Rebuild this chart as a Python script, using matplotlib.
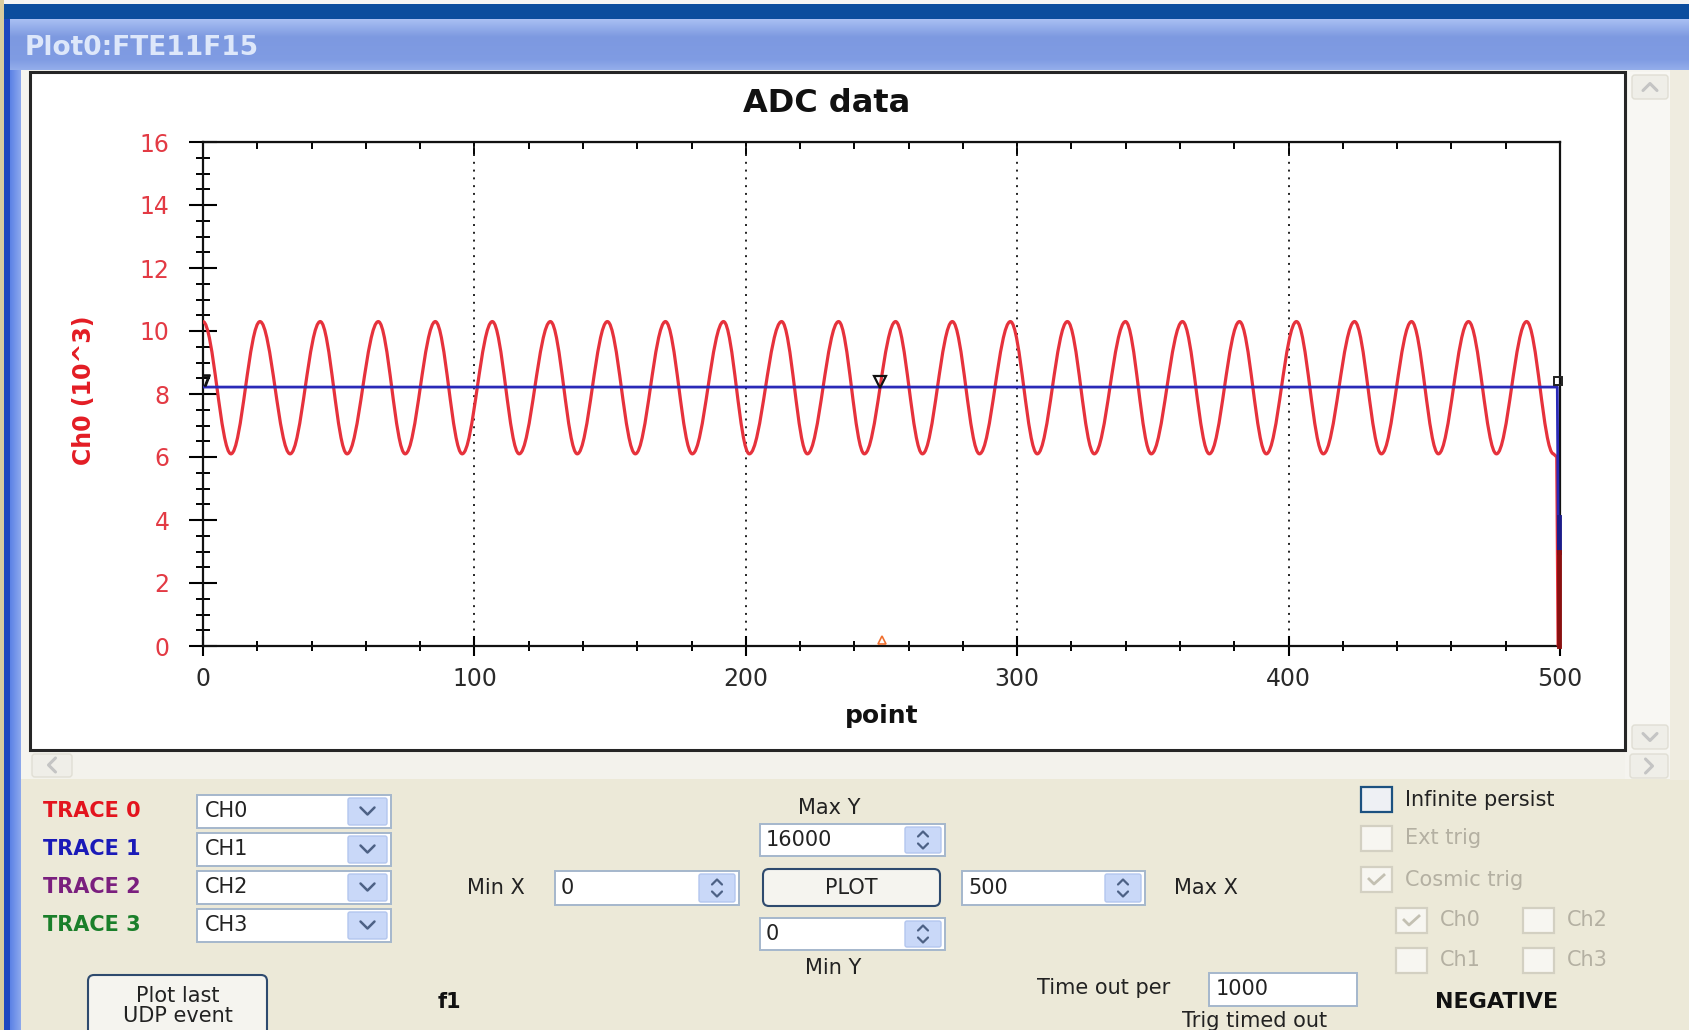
import numpy as np
import matplotlib
matplotlib.use("Agg")
import matplotlib.pyplot as plt
from matplotlib.patches import Rectangle, FancyBboxPatch, PathPatch
from matplotlib.path import Path
from matplotlib.ticker import MultipleLocator

# ---- data (x = point, y = Ch0 in 10^3 counts) ----
red_peak_x = [0, 21.0, 43.2, 64.6, 85.6, 106.6, 128.0, 149.0, 170.4, 191.8, 213.2, 234.2,
              255.2, 276.1, 297.5, 318.5, 339.9, 360.9, 381.9, 402.9, 424.3, 445.3, 466.3, 487.7]
red_peak_y = [10.3, 10.3, 10.3, 10.3, 10.3, 10.3, 10.3, 10.3, 10.3, 10.3, 10.3, 10.3,
              10.3, 10.3, 10.3, 10.3, 10.3, 10.3, 10.3, 10.3, 10.3, 10.3, 10.3, 10.3]
red_trough_x = [10.3, 32.1, 53.1, 74.5, 95.5, 116.5, 137.9, 159.3, 180.3, 201.3, 222.7, 243.7,
                265.1, 286.1, 307.4, 328.4, 349.4, 370.8, 391.8, 412.8, 434.2, 455.2, 476.6, 497.6]
red_trough_y = [6.1, 6.1, 6.1, 6.1, 6.1, 6.1, 6.1, 6.1, 6.1, 6.1, 6.1, 6.1,
                6.1, 6.1, 6.1, 6.1, 6.1, 6.1, 6.1, 6.1, 6.1, 6.1, 6.1, 6.1]
red_tail_x = [498.8, 499.3]
red_tail_y = [6.0, 0.0]

blue_x = [0, 499.0, 499.4]
blue_y = [8.22, 8.22, 3.0]
navy_end_x = [499.6, 499.6]
navy_end_y = [4.1, 3.0]
darkred_end_x = [499.6, 499.6]
darkred_end_y = [3.0, 0.0]

trig_x, trig_y = [249.5], [8.38]
cursor_x, cursor_y = [250], [0.2]
end_x, end_y = [499.2], [8.4]
start_x, start_y = [1.2], [8.45]

xmajor = [0, 100, 200, 300, 400, 500]
ymajor = [0, 2, 4, 6, 8, 10, 12, 14, 16]

trace_labels = ["TRACE 0", "TRACE 1", "TRACE 2", "TRACE 3"]
trace_colors = ["#e3141e", "#1a1ab8", "#7a1f7e", "#1a7f2a"]
combo_labels = ["CH0", "CH1", "CH2", "CH3"]

W, H = 1689, 1030
BEIGE = "#ece9d8"
RED = "#e6323c"
BLUE = "#2a2ab8"

fig = plt.figure(figsize=(16.89, 10.30), dpi=100)
fig.patch.set_facecolor(BEIGE)

# background axes in pixel coordinates (y downwards) for the window chrome
bg = fig.add_axes([0, 0, 1, 1], zorder=0)
bg.set_xlim(0, W)
bg.set_ylim(H, 0)
bg.axis("off")


def rect(x, y, w, h, fc, ec="none", lw=1.0, r=0, z=1):
    if r:
        p = FancyBboxPatch((x, y), w, h, boxstyle=f"round,pad=0,rounding_size={r}",
                           fc=fc, ec=ec, lw=lw, zorder=z)
    else:
        p = Rectangle((x, y), w, h, fc=fc, ec=ec, lw=lw, zorder=z)
    bg.add_patch(p)
    return p


def chev(cx, cy, s, kind="down", color="#4d6185", lw=1.8, z=5):
    if kind == "down":
        xs, ys = [cx - s, cx, cx + s], [cy - s / 2, cy + s / 2, cy - s / 2]
    elif kind == "up":
        xs, ys = [cx - s, cx, cx + s], [cy + s / 2, cy - s / 2, cy + s / 2]
    elif kind == "left":
        xs, ys = [cx + s / 2, cx - s / 2, cx + s / 2], [cy - s, cy, cy + s]
    else:
        xs, ys = [cx - s / 2, cx + s / 2, cx - s / 2], [cy - s, cy, cy + s]
    bg.plot(xs, ys, color=color, lw=lw, solid_capstyle="round",
            solid_joinstyle="round", zorder=z)


# top strip, dark blue bar, title bar
rect(0, 0, W, 5, "#f4f4f4")
rect(0, 4, W, 15, "#0b4d9e")
grad = np.linspace(0, 1, 60)[:, None]
tb_cols = np.array([[0.66, 0.75, 0.95], [0.49, 0.60, 0.88], [0.50, 0.61, 0.89], [0.58, 0.68, 0.92]])
pos = np.array([0, 0.35, 0.8, 1.0])
img = np.stack([np.interp(grad[:, 0], pos, tb_cols[:, c]) for c in range(3)], axis=-1)[:, None, :]
bg.imshow(img, extent=(8, W, 70, 19), aspect="auto", zorder=1)
bg.text(25, 48, "Plot0:FTE11F15", fontsize=19, fontweight="bold", color="#dde7fa",
        ha="left", va="center", zorder=3)

# left window border
rect(0, 0, 4, H, "#d9cc9e", z=2)
rect(4, 19, 6, H, "#1f47bf", z=2)
hg = np.linspace(0, 1, 20)[None, :]
himg = np.stack([np.interp(hg[0], [0, 1], [0.36, 0.55]),
                 np.interp(hg[0], [0, 1], [0.51, 0.66]),
                 np.interp(hg[0], [0, 1], [0.90, 0.93])], axis=-1)[None, :, :]
bg.imshow(himg, extent=(10, 21, H, 70), aspect="auto", zorder=2)

# client area around the plot
rect(21, 70, W - 21, 710, "#f5f4ef")
rect(21, 779, W - 21, H - 779, BEIGE)

# plot panel
rect(30, 72, 1595, 678, "white", ec="#262626", lw=2.2, z=1.5)

# vertical scrollbar
rect(1628, 72, 42, 678, "#f8f7f3")
rect(1632, 75, 36, 24, "#efeee8", ec="#e0ded4", lw=1, r=3, z=2)
chev(1650, 87, 7, "up", color="#c4c4c4", lw=2.2)
rect(1632, 725, 36, 24, "#efeee8", ec="#e0ded4", lw=1, r=3, z=2)
chev(1650, 737, 7, "down", color="#c4c4c4", lw=2.2)
rect(1670, 70, 19, 710, "#efece0")

# horizontal scrollbar
rect(30, 752, 1595, 27, "#f3f2ec")
rect(32, 754, 40, 23, "#efeee8", ec="#e0ded4", lw=1, r=3, z=2)
chev(52, 765, 7, "left", color="#c4c4c4", lw=2.2)
rect(1630, 754, 38, 24, "#efeee8", ec="#e0ded4", lw=1, r=3, z=2)
chev(1649, 766, 7, "right", color="#c4c4c4", lw=2.2)

# ---- main plot ----
ax = fig.add_axes([203 / W, 1 - 646 / H, (1560 - 203) / W, (646 - 142) / H], zorder=2)
ax.set_facecolor("white")
ax.set_xlim(0, 500)
ax.set_ylim(0, 16)

# red trace: smooth half-cycles through the read extrema
ext = sorted(zip(red_peak_x + red_trough_x, red_peak_y + red_trough_y))
k = 0.3634
verts = [ext[0]]
codes = [Path.MOVETO]
for (x0, y0), (x1, y1) in zip(ext[:-1], ext[1:]):
    w = x1 - x0
    verts += [(x0 + k * w, y0), (x1 - k * w, y1), (x1, y1)]
    codes += [Path.CURVE4] * 3
for tx, ty in zip(red_tail_x, red_tail_y):
    verts.append((tx, ty))
    codes.append(Path.LINETO)
ax.add_patch(PathPatch(Path(verts, codes), fill=False, ec=RED, lw=2.3,
                       joinstyle="round", zorder=3))

ax.plot(blue_x, blue_y, color=BLUE, lw=2.0, zorder=4)
ax.plot(navy_end_x, navy_end_y, color="#1c1c8a", lw=3.5, zorder=5, clip_on=False)
ax.plot(darkred_end_x, darkred_end_y, color="#8a1010", lw=3.5, zorder=5, clip_on=False)

ax.plot(trig_x, trig_y, marker="v", ms=9, mfc="none", mec="#111111", mew=1.6, ls="none", zorder=6)
ax.plot(cursor_x, cursor_y, marker="^", ms=6, mfc="none", mec="#f07030", mew=1.2, ls="none", zorder=6)
ax.plot(end_x, end_y, marker="s", ms=6, mfc="none", mec="#222222", mew=1.4, ls="none",
        zorder=6, clip_on=False)
ax.plot(start_x, start_y, marker="$7$", ms=8, color="#111111", ls="none", zorder=6)

# ticks
ax.set_xticks(xmajor)
ax.set_yticks(ymajor)
ax.xaxis.set_minor_locator(MultipleLocator(20))
ax.yaxis.set_minor_locator(MultipleLocator(0.5))
ax.tick_params(axis="y", which="major", direction="inout", length=20, width=1.5,
               labelsize=17, labelcolor="#e33a44", pad=14)
ax.tick_params(axis="y", which="minor", direction="inout", length=10, width=1.4)
ax.tick_params(axis="x", which="major", direction="inout", length=14, width=1.5,
               labelsize=17, labelcolor="#2a2a2a", pad=8)
ax.tick_params(axis="x", which="minor", direction="inout", length=7, width=1.4)
for s in ax.spines.values():
    s.set_linewidth(1.6)
    s.set_color("#111111")

top = ax.secondary_xaxis("top")
top.set_xticks(xmajor)
top.xaxis.set_minor_locator(MultipleLocator(20))
top.tick_params(which="major", direction="in", length=9, width=1.4, labeltop=False)
top.tick_params(which="minor", direction="in", length=5, width=1.4)

ax.grid(True, axis="x", which="major", linestyle=(0, (1, 3)), color="#222222", lw=1.4)

ax.set_xlabel("point", fontsize=18, fontweight="bold", color="#111111", va="center")
ax.xaxis.set_label_coords(0.5, -(716 - 646) / 504)
ax.set_ylabel("Ch0 (10^3)", fontsize=17, fontweight="bold", color="#e31c24", va="center")
ax.yaxis.set_label_coords((84 - 203) / 1357, (646 - 390) / 504)

bg.text(827, 104, "ADC data", fontsize=23, fontweight="bold", color="#111111",
        ha="center", va="center", zorder=3)

# ---- control panel ----
row_y = [811, 849, 887, 925]
for lab, col, cl, cy in zip(trace_labels, trace_colors, combo_labels, row_y):
    bg.text(43, cy, lab, fontsize=15, fontweight="bold", color=col, ha="left", va="center")
    rect(197, cy - 16, 194, 33, "white", ec="#a5b7cc", lw=1.4, z=2)
    bg.text(205, cy, cl, fontsize=15, color="#222222", ha="left", va="center", zorder=3)
    rect(348, cy - 13, 39, 27, "#c9d8f8", ec="#b3c6ee", lw=1, r=2, z=3)
    chev(367.5, cy, 7, "down")


def spin_box(x, y, w, h, txt):
    rect(x, y, w, h, "white", ec="#a5b7cc", lw=1.4, z=2)
    bg.text(x + 6, y + h / 2, txt, fontsize=15, color="#222222", ha="left", va="center", zorder=3)
    rect(x + w - 40, y + 3, 36, h - 6, "#c9d8f8", ec="#b3c6ee", lw=1, r=2, z=3)
    chev(x + w - 22, y + h / 2 - 6, 5, "up", lw=1.6)
    chev(x + w - 22, y + h / 2 + 6, 5, "down", lw=1.6)


def button(x, y, w, h, txt, fs=15):
    rect(x, y, w, h, "#f5f4ef", ec="#2e4a6e", lw=1.5, r=6, z=2)
    bg.text(x + w / 2, y + h / 2, txt, fontsize=fs, color="#222222", ha="center", va="center",
            zorder=3, linespacing=0.95)


bg.text(829, 808, "Max Y", fontsize=15, color="#222222", ha="center", va="center")
spin_box(760, 824, 185, 32, "16000")
bg.text(496, 888, "Min X", fontsize=15, color="#222222", ha="center", va="center")
spin_box(555, 871, 184, 34, "0")
button(763, 869, 177, 37, "PLOT")
spin_box(962, 871, 183, 34, "500")
bg.text(1206, 888, "Max X", fontsize=15, color="#222222", ha="center", va="center")
spin_box(760, 918, 185, 32, "0")
bg.text(833, 968, "Min Y", fontsize=15, color="#222222", ha="center", va="center")

button(88, 975, 179, 62, "Plot last\nUDP event")
bg.text(449, 1002, "f1", fontsize=15, fontweight="bold", color="#111111", ha="center", va="center")

bg.text(1104, 988, "Time out per", fontsize=15, color="#222222", ha="center", va="center")
rect(1209, 973, 148, 33, "white", ec="#a5b7cc", lw=1.4, z=2)
bg.text(1216, 989, "1000", fontsize=15, color="#222222", ha="left", va="center", zorder=3)
bg.text(1255, 1021, "Trig timed out", fontsize=15, color="#222222", ha="center", va="center")
bg.text(1497, 1002, "NEGATIVE", fontsize=16, fontweight="bold", color="#111111",
        ha="center", va="center")

DIS = "#b4b0a2"


def checkbox(x, y, txt, enabled=False, checked=False):
    ec = "#1c5180" if enabled else "#d3d0c2"
    fc = "#eef0f4" if enabled else "#f7f6f1"
    rect(x, y, 31, 25, fc, ec=ec, lw=1.6, z=2)
    if checked:
        bg.plot([x + 8, x + 13, x + 23], [y + 12, y + 17, y + 8], color="#c3c0b2", lw=2,
                zorder=3, solid_joinstyle="round")
    bg.text(x + 44, y + 12.5, txt, fontsize=15, color="#222222" if enabled else DIS,
            ha="left", va="center", zorder=3)


checkbox(1361, 787, "Infinite persist", enabled=True)
checkbox(1361, 826, "Ext trig")
checkbox(1361, 867, "Cosmic trig", checked=True)
checkbox(1396, 908, "Ch0", checked=True)
checkbox(1523, 908, "Ch2")
checkbox(1396, 948, "Ch1")
checkbox(1523, 948, "Ch3")

fig.savefig("out.png", dpi=100, facecolor=fig.get_facecolor())
